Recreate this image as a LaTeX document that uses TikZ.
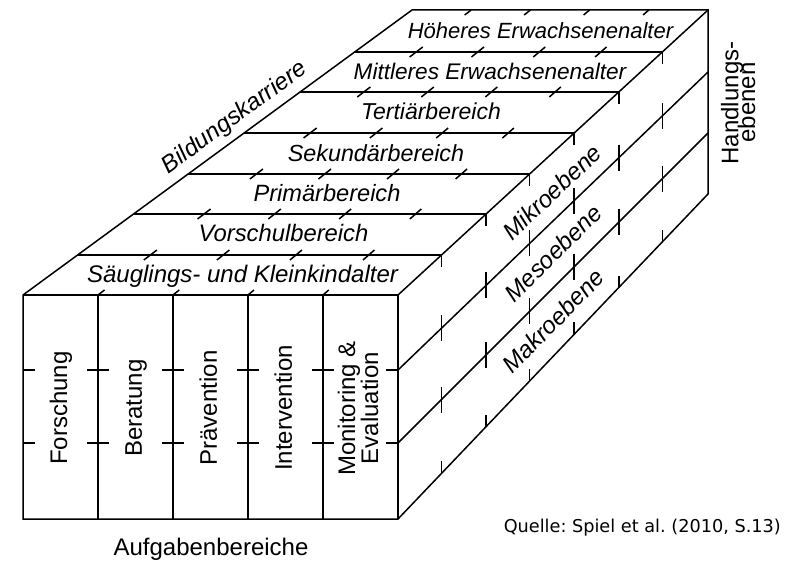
\documentclass[tikz,border=0pt]{standalone}
\usepackage{fontspec}
\setmainfont{Liberation Sans}
\newfontfamily\quellefont{DejaVu Sans}
\newcommand\setfs[1]{\fontsize{#1}{#1}\selectfont}
\frenchspacing
\begin{document}
\begin{tikzpicture}[x=1pt,y=-1pt,line width=1.5pt,
  lab/.style={inner sep=0pt,anchor=base,font=\setfs{24}},
  toplab/.style={inner sep=0pt,anchor=base},
  sidelab/.style={inner sep=0pt,anchor=center,font=\setfs{24}\itshape}]
\useasboundingbox (0,0) rectangle (795,561);
% corners
\coordinate (A) at (23,295);
\coordinate (B) at (398,295);
\coordinate (C) at (398,519);
\coordinate (D) at (23,519);
\coordinate (E) at (412,10);
\coordinate (F) at (708,10);
\coordinate (G) at (708,194);
% outline
\draw (D) -- (A) -- (E) -- (F) -- (G) -- (C) -- cycle;
\draw (A) -- (B) -- (C);
\draw (B) -- (F);
% front face columns
\foreach \x in {98,173,248,323} \draw (\x,295) -- (\x,519);
\foreach \y in {370,443} {
  \draw (23,\y) -- (35,\y);
  \draw (386,\y) -- (398,\y);
  \foreach \x in {98,173,248,323} \draw (\x-11,\y) -- (\x+11,\y);
}
% top face band lines
\foreach \y in {255,214,174,133,92,52}
  \draw ({23+(295-\y)*1.36491},\y) -- ({398+(295-\y)*1.08772},\y);
% top face ticks
\foreach \y in {255,214,174,133,92,52} {
  \foreach \u in {0.2,0.4,0.6,0.8} {
    \pgfmathsetmacro\tL{23+(295-\y)*1.36491}
    \pgfmathsetmacro\tR{398+(295-\y)*1.08772}
    \pgfmathsetmacro\tX{\tL+\u*(\tR-\tL)}
    \pgfmathsetmacro\tdx{(389-79*\u)/285*5}
    \draw ({\tX-\tdx},\y+5) -- ({\tX+\tdx},\y-5);
  }
}
\foreach \u in {0.2,0.4,0.6,0.8} {
  \pgfmathsetmacro\tdx{(389-79*\u)/285*5}
  \draw ({23+375*\u},295) -- ({23+375*\u+\tdx},290);
  \draw ({412+296*\u},10) -- ({412+296*\u-\tdx},15);
}
% right face lines
\draw (398,370) -- (708,72);
\draw (398,443) -- (708,133);
% right face ticks
\foreach \x in {441.5,486.1,529.6,574.2,618.8,662.3} {
  \pgfmathsetmacro\ya{295+(\x-398)/310*(10-295)}
  \pgfmathsetmacro\yb{370+(\x-398)/310*(72-370)}
  \pgfmathsetmacro\yc{443+(\x-398)/310*(133-443)}
  \pgfmathsetmacro\yd{519+(\x-398)/310*(194-519)}
  \draw (\x,\ya) -- (\x,\ya+12);
  \draw (\x,\yb-13) -- (\x,\yb+13);
  \draw (\x,\yc-13) -- (\x,\yc+13);
  \draw (\x,\yd) -- (\x,\yd-12);
}
% top labels
\node[toplab,font=\setfs{24}\itshape] (t1) at (242.5,283) {Säuglings- und Kleinkindalter};
\node[toplab,font=\setfs{23.8}\itshape] (t2) at (283.5,242) {Vorschulbereich};
\node[toplab,font=\setfs{23.6}\itshape] (t3) at (327,201.5) {Primärbereich};
\node[toplab,font=\setfs{23.3}\itshape] (t4) at (376,161.5) {Sekundärbereich};
\node[toplab,font=\setfs{23}\itshape] (t5) at (431,120) {Tertiärbereich};
\node[toplab,font=\setfs{22.6}\itshape] (t6) at (490,80) {Mittleres Erwachsenenalter};
\node[toplab,font=\setfs{22}\itshape] (t7) at (540.5,38.3) {Höheres Erwachsenenalter};
% front labels
\node[lab,rotate=90] (f1) at (67,408) {Forschung};
\node[lab,rotate=90] (f2) at (141.8,408) {Beratung};
\node[lab,rotate=90] (f3) at (216.8,408) {Prävention};
\node[lab,rotate=90] (f4) at (291.8,408) {Intervention};
\node[lab,rotate=90] (f5a) at (355,408.5) {Monitoring \&};
\node[lab,rotate=90] (f5b) at (378,408) {Evaluation};
% axis labels
\node[lab] (aufg) at (211,555) {Aufgabenbereiche};
\node[lab,rotate=90] (hand1) at (738.3,103) {Handlungs-};
\node[lab,rotate=90] (hand2) at (755,102.5) {ebenen};
\node[sidelab,rotate=36.2] (bild) at (235,118) {Bildungskarriere};
\node[sidelab,rotate=43.3] (mikro) at (552,192) {Mikroebene};
\node[sidelab,rotate=44.5] (meso) at (553,253) {Mesoebene};
\node[sidelab,rotate=45.6] (makro) at (553,321) {Makroebene};
\node[inner sep=0pt,anchor=base west,font=\quellefont\setfs{17.7}] (quelle) at (503,532) {Quelle: Spiel et al. (2010, S.13)};
\end{tikzpicture}
\end{document}
